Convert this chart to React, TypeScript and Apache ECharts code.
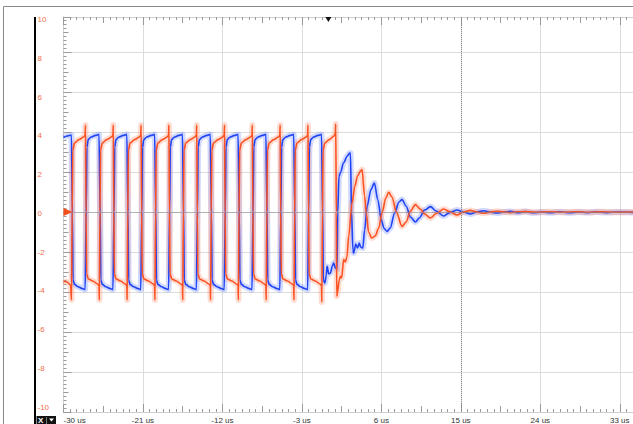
import React, { useEffect, useRef } from "react";
import * as echarts from "echarts";

// time in us, value in V
const blueTrace: [number, number][] = [
  [-30, 3.72], [-29.6, 3.8], [-29.1, 3.85],
  [-29.0, 0], [-28.92, -3.4], [-28.75, -3.62], [-28.35, -3.74], [-27.85, -3.83], [-27.55, -3.88],
  [-27.43, 0], [-27.35, 3.25], [-27.2, 3.62], [-26.88, 3.75], [-26.38, 3.83], [-25.98, 3.88],
  [-25.85, 0], [-25.77, -3.4], [-25.6, -3.62], [-25.2, -3.74], [-24.7, -3.83], [-24.4, -3.88],
  [-24.28, 0], [-24.2, 3.25], [-24.05, 3.62], [-23.73, 3.75], [-23.23, 3.83], [-22.83, 3.88],
  [-22.7, 0], [-22.62, -3.4], [-22.45, -3.62], [-22.05, -3.74], [-21.55, -3.83], [-21.25, -3.88],
  [-21.13, 0], [-21.05, 3.25], [-20.9, 3.62], [-20.58, 3.75], [-20.08, 3.83], [-19.68, 3.88],
  [-19.55, 0], [-19.47, -3.4], [-19.3, -3.62], [-18.9, -3.74], [-18.4, -3.83], [-18.1, -3.88],
  [-17.98, 0], [-17.9, 3.25], [-17.75, 3.62], [-17.43, 3.75], [-16.93, 3.83], [-16.53, 3.88],
  [-16.4, 0], [-16.32, -3.4], [-16.15, -3.62], [-15.75, -3.74], [-15.25, -3.83], [-14.95, -3.88],
  [-14.83, 0], [-14.75, 3.25], [-14.6, 3.62], [-14.28, 3.75], [-13.78, 3.83], [-13.38, 3.88],
  [-13.25, 0], [-13.17, -3.4], [-13.0, -3.62], [-12.6, -3.74], [-12.1, -3.83], [-11.8, -3.88],
  [-11.68, 0], [-11.6, 3.25], [-11.45, 3.62], [-11.13, 3.75], [-10.63, 3.83], [-10.23, 3.88],
  [-10.1, 0], [-10.02, -3.4], [-9.85, -3.62], [-9.45, -3.74], [-8.95, -3.83], [-8.65, -3.88],
  [-8.53, 0], [-8.45, 3.25], [-8.3, 3.62], [-7.98, 3.75], [-7.48, 3.83], [-7.08, 3.88],
  [-6.95, 0], [-6.87, -3.4], [-6.7, -3.62], [-6.3, -3.74], [-5.8, -3.83], [-5.5, -3.88],
  [-5.38, 0], [-5.3, 3.25], [-5.15, 3.62], [-4.83, 3.75], [-4.33, 3.83], [-3.93, 3.88],
  [-3.8, 0], [-3.72, -3.4], [-3.55, -3.62], [-3.15, -3.74], [-2.65, -3.83], [-2.35, -3.88],
  [-2.23, 0], [-2.15, 3.25], [-2.0, 3.62], [-1.68, 3.75], [-1.18, 3.83], [-0.78, 3.88],
  [-0.65, 0], [-0.57, -3.4], [-0.4, -3.55], [-0.25, -3.2], [-0.15, -2.72], [0.05, -3.1],
  [0.23, -3.05], [0.45, -2.7], [0.6, -2.55], [0.79, -2.8], [0.98, -2.85],
  [1.06, 0], [1.2, 1.78], [1.4, 2.0], [1.7, 2.45], [2.15, 2.8], [2.41, 2.95], [2.5, 2.95],
  [2.62, 0], [2.78, -1.9], [2.86, -2.05], [3.1, -1.6], [3.3, -1.8], [3.5, -1.55], [3.65, -1.75], [3.9, -1.8],
  [4.1, -0.9], [4.4, 0.3], [4.8, 1.1], [5.21, 1.45],
  [5.6, 0.6], [6.0, -0.4], [6.3, -0.82], [6.65, -0.97], [7.0, -0.8], [7.5, -0.05], [8.0, 0.5],
  [8.34, 0.62], [8.8, 0.3], [9.3, -0.25], [9.85, -0.5], [10.3, -0.3], [10.9, 0.1], [11.55, 0.27],
  [12.2, 0.05], [13.05, -0.2], [13.8, -0.02], [14.57, 0.1], [15.3, 0.0], [16.08, -0.1], [16.8, 0.0],
  [17.6, 0.06], [18.4, -0.01], [19.1, -0.05], [19.9, 0.0], [20.6, 0.03], [21.5, -0.04], [22.3, 0.02],
  [23.2, -0.04], [24.2, 0.0], [25.2, -0.04], [26.2, 0.01], [27.3, -0.04], [28.3, 0.0], [29.3, -0.03],
  [30.4, 0.01], [31.5, -0.03], [32.8, 0.0], [34.5, -0.02],
];

const orangeTrace: [number, number][] = [
  [-30, -3.45], [-29.6, -3.5], [-29.2, -3.65], [-29.09, -4.4],
  [-29.02, 0], [-28.95, 3.1], [-28.75, 3.45], [-28.25, 3.62], [-27.7, 3.75], [-27.55, 3.85], [-27.51, 4.35],
  [-27.45, 0], [-27.38, -3.1], [-27.18, -3.35], [-26.68, -3.45], [-26.13, -3.6], [-25.98, -3.7], [-25.94, -4.4],
  [-25.87, 0], [-25.8, 3.1], [-25.6, 3.45], [-25.1, 3.62], [-24.55, 3.75], [-24.4, 3.85], [-24.36, 4.35],
  [-24.3, 0], [-24.23, -3.1], [-24.03, -3.35], [-23.53, -3.45], [-22.98, -3.6], [-22.83, -3.7], [-22.79, -4.4],
  [-22.72, 0], [-22.65, 3.1], [-22.45, 3.45], [-21.95, 3.62], [-21.4, 3.75], [-21.25, 3.85], [-21.21, 4.35],
  [-21.15, 0], [-21.08, -3.1], [-20.88, -3.35], [-20.38, -3.45], [-19.83, -3.6], [-19.68, -3.7], [-19.64, -4.4],
  [-19.57, 0], [-19.5, 3.1], [-19.3, 3.45], [-18.8, 3.62], [-18.25, 3.75], [-18.1, 3.85], [-18.06, 4.35],
  [-18.0, 0], [-17.93, -3.1], [-17.73, -3.35], [-17.23, -3.45], [-16.68, -3.6], [-16.53, -3.7], [-16.49, -4.4],
  [-16.42, 0], [-16.35, 3.1], [-16.15, 3.45], [-15.65, 3.62], [-15.1, 3.75], [-14.95, 3.85], [-14.91, 4.35],
  [-14.85, 0], [-14.78, -3.1], [-14.58, -3.35], [-14.08, -3.45], [-13.53, -3.6], [-13.38, -3.7], [-13.34, -4.4],
  [-13.27, 0], [-13.2, 3.1], [-13.0, 3.45], [-12.5, 3.62], [-11.95, 3.75], [-11.8, 3.85], [-11.76, 4.35],
  [-11.7, 0], [-11.63, -3.1], [-11.43, -3.35], [-10.93, -3.45], [-10.38, -3.6], [-10.23, -3.7], [-10.19, -4.4],
  [-10.12, 0], [-10.05, 3.1], [-9.85, 3.45], [-9.35, 3.62], [-8.8, 3.75], [-8.65, 3.85], [-8.61, 4.35],
  [-8.55, 0], [-8.48, -3.1], [-8.28, -3.35], [-7.78, -3.45], [-7.23, -3.6], [-7.08, -3.7], [-7.04, -4.4],
  [-6.97, 0], [-6.9, 3.1], [-6.7, 3.45], [-6.2, 3.62], [-5.65, 3.75], [-5.5, 3.85], [-5.46, 4.35],
  [-5.4, 0], [-5.33, -3.1], [-5.13, -3.35], [-4.63, -3.45], [-4.08, -3.6], [-3.93, -3.7], [-3.89, -4.4],
  [-3.82, 0], [-3.75, 3.1], [-3.55, 3.45], [-3.05, 3.62], [-2.5, 3.75], [-2.35, 3.85], [-2.31, 4.35],
  [-2.25, 0], [-2.18, -3.1], [-1.98, -3.35], [-1.48, -3.45], [-0.93, -3.6], [-0.78, -3.7], [-0.74, -4.5],
  [-0.67, 0], [-0.6, 3.1], [-0.4, 3.45], [0.1, 3.62], [0.65, 3.8], [0.79, 3.95], [0.83, 4.4],
  [0.9, 0], [0.95, -4.22], [1.05, -4.0], [1.2, -3.45], [1.36, -3.22], [1.5, -3.3], [1.73, -2.38],
  [1.9, -2.5], [2.1, -2.25], [2.3, -1.2], [2.68, 0.45], [3.0, 1.3], [3.3, 1.8], [3.62, 2.03], [3.81, 2.12],
  [4.1, 0.8], [4.3, -0.1], [4.56, -1.0], [4.9, -1.3], [5.3, -1.2], [5.7, -0.8], [6.1, 0.0], [6.5, 0.7],
  [6.83, 0.98], [7.2, 0.75], [7.7, 0.0], [8.34, -0.72], [8.8, -0.5], [9.3, 0.05], [9.85, 0.37],
  [10.4, 0.15], [10.9, -0.1], [11.55, -0.3], [12.3, -0.05], [13.05, 0.15], [13.8, 0.0], [14.57, -0.15],
  [15.3, 0.0], [16.08, 0.08], [16.8, 0.0], [17.6, -0.06], [18.4, 0.0], [19.1, 0.04], [19.9, 0.0],
  [20.6, -0.03], [21.4, 0.01], [22.2, 0.02], [23.5, -0.01], [25.0, 0.01], [26.5, -0.01], [28.0, 0.01],
  [29.5, -0.01], [31.0, 0.01], [32.5, -0.01], [34.5, 0.0],
];

// axis definitions
const X_MIN = -30;
const X_MAX = 34.5;
const X_MAJOR = 9;
const X_MID = 4.5;
const X_MINOR = 0.75;
const Y_MIN = -10;
const Y_MAX = 9.75;
const Y_MAJOR = 2;
const Y_MID = 1;
const Y_MINOR = 0.2;
const X_UNIT = "us";
const TRIGGER_TIME = 0;
const CURSOR_TIME = 15;

const BLUE = "#1f44f6";
const ORANGE = "#fb5222";
const LABEL_ORANGE = "#f26d4b";
const GRID_GRAY = "#dcdcdc";
const TICK_GRAY = "#9a9a9a";

function tickAxis(kind: "x" | "y", position: string, interval: number, len: number, extra: any = {}) {
  const base: any = {
    type: "value",
    gridIndex: 0,
    position,
    min: kind === "x" ? X_MIN : Y_MIN,
    max: kind === "x" ? X_MAX : Y_MAX,
    interval,
    axisLine: { show: false, onZero: false },
    axisTick: { show: true, inside: true, length: len, lineStyle: { color: TICK_GRAY, width: 1 } },
    axisLabel: { show: false },
    splitLine: { show: false },
  };
  return { ...base, ...extra };
}

const edgeLine = { show: true, onZero: false, lineStyle: { color: "#cfcfcf" } };

export default function App() {
  const ref = useRef<HTMLDivElement>(null);

  useEffect(() => {
    if (!ref.current) return;
    const chart = echarts.init(ref.current, undefined, { renderer: "svg" });

    const traceCommon = {
      type: "line",
      showSymbol: false,
      silent: true,
      smooth: 0.3,
      smoothMonotone: "x",
    };

    const option: any = {
      animation: false,
      backgroundColor: "#ffffff",
      grid: [
        { left: 63.5, right: 0, top: 17, bottom: 12 },
        { left: 63.5, right: 0, top: 19.5, bottom: 17 },
      ],
      xAxis: [
        tickAxis("x", "bottom", X_MAJOR, 8, {
          axisLine: edgeLine,
          splitLine: { show: true, lineStyle: { color: GRID_GRAY, width: 1 } },
          axisLabel: {
            show: true,
            formatter: (v: number) => `${v} ${X_UNIT}`,
            fontSize: 8,
            fontFamily: "Liberation Sans",
            color: "#333333",
            margin: 4,
            showMaxLabel: false,
            alignMinLabel: "left",
          },
        }),
        tickAxis("x", "bottom", X_MID, 6),
        tickAxis("x", "bottom", X_MINOR, 3),
        tickAxis("x", "top", X_MAJOR, 8, { axisLine: edgeLine }),
        tickAxis("x", "top", X_MID, 6),
        tickAxis("x", "top", X_MINOR, 3),
        { type: "value", gridIndex: 1, min: X_MIN, max: X_MAX, show: false },
      ],
      yAxis: [
        tickAxis("y", "left", Y_MAJOR, 8, {
          axisLine: edgeLine,
          splitLine: { show: true, lineStyle: { color: GRID_GRAY, width: 1 } },
        }),
        tickAxis("y", "left", Y_MID, 5),
        tickAxis("y", "left", Y_MINOR, 3),
        {
          type: "value",
          gridIndex: 1,
          position: "left",
          min: -10,
          max: 10,
          interval: 2,
          axisLine: { show: false, onZero: false },
          axisTick: { show: false },
          splitLine: { show: false },
          axisLabel: {
            show: true,
            fontSize: 8,
            fontFamily: "Liberation Sans",
            color: LABEL_ORANGE,
            align: "left",
            margin: 26,
          },
        },
      ],
      series: [
        {
          ...traceCommon,
          name: "blue-halo",
          data: blueTrace,
          z: 2,
          lineStyle: { color: "rgba(90,120,255,0.28)", width: 6 },
          markLine: {
            silent: true,
            symbol: "none",
            label: { show: false },
            lineStyle: { type: "dotted", color: "#8a8a8a", width: 1 },
            data: [{ yAxis: 0 }, { xAxis: CURSOR_TIME }],
          },
        },
        {
          ...traceCommon,
          name: "orange-halo",
          data: orangeTrace,
          z: 2,
          lineStyle: { color: "rgba(255,130,90,0.28)", width: 6 },
        },
        {
          ...traceCommon,
          name: "CH2",
          data: blueTrace,
          z: 3,
          lineStyle: { color: BLUE, width: 1.6 },
        },
        {
          ...traceCommon,
          name: "CH1",
          data: orangeTrace,
          z: 4,
          lineStyle: { color: ORANGE, width: 1.6 },
          markPoint: {
            silent: true,
            label: { show: false },
            data: [
              {
                coord: [X_MIN, 0],
                symbol: "triangle",
                symbolSize: [8, 9],
                symbolRotate: -90,
                symbolOffset: [4.5, 0],
                itemStyle: { color: "#f0501e" },
              },
              {
                coord: [TRIGGER_TIME, Y_MAX],
                symbol: "triangle",
                symbolSize: [6, 5],
                symbolRotate: 180,
                symbolOffset: [0, 2.5],
                itemStyle: { color: "#111111" },
              },
            ],
          },
        },
      ],
      graphic: [
        { type: "line", z: 10, shape: { x1: 3.5, y1: 6.5, x2: 633, y2: 6.5 }, style: { stroke: "#8a8a8a", lineWidth: 1 } },
        { type: "line", z: 10, shape: { x1: 3.5, y1: 6.5, x2: 3.5, y2: 424 }, style: { stroke: "#8a8a8a", lineWidth: 1 } },
        { type: "rect", z: 10, shape: { x: 34, y: 17, width: 2, height: 407 }, style: { fill: "#000000" } },
        { type: "rect", z: 10, shape: { x: 36.5, y: 416, width: 19.5, height: 8 }, style: { fill: "#111111" } },
        {
          type: "text",
          z: 11,
          x: 38,
          y: 416.5,
          style: { text: "X", fill: "#ffffff", font: "bold 8px 'Liberation Sans'" },
        },
        { type: "line", z: 11, shape: { x1: 46.5, y1: 417, x2: 46.5, y2: 424 }, style: { stroke: "#777777", lineWidth: 1 } },
        {
          type: "polygon",
          z: 11,
          shape: { points: [[49, 418.5], [54, 418.5], [51.5, 421.5]] },
          style: { fill: "#ffffff" },
        },
      ],
    };

    chart.setOption(option);
    return () => chart.dispose();
  }, []);

  return (
    <div
      ref={ref}
      style={{ position: "absolute", left: 0, top: 0, width: 633, height: 424 }}
    />
  );
}
